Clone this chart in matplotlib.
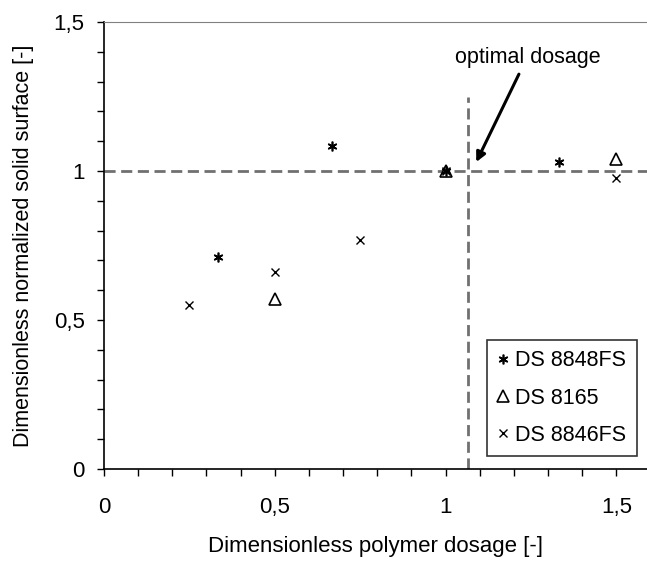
import matplotlib
matplotlib.use("Agg")
import matplotlib.pyplot as plt
from matplotlib.ticker import MultipleLocator, FuncFormatter

# Data
s1_name = "DS 8848FS"
s1_x = [0.333, 0.667, 1.0, 1.333]
s1_y = [0.71, 1.085, 1.0, 1.03]

s2_name = "DS 8165"
s2_x = [0.5, 1.0, 1.5]
s2_y = [0.57, 1.0, 1.04]

s3_name = "DS 8846FS"
s3_x = [0.25, 0.5, 0.75, 1.0, 1.5]
s3_y = [0.55, 0.66, 0.77, 1.0, 0.975]

optimal_x = 1.065
ref_y = 1.0

plt.rcParams['font.family'] = ['Liberation Sans', 'DejaVu Sans']

fig = plt.figure(figsize=(6.47, 5.61), dpi=100)
ax = fig.add_axes([104/647, 92/561, (647-104)/647, (469-22)/561])

ax.set_xlim(0, 1.59)
ax.set_ylim(0, 1.5)

ax.plot(s1_x, s1_y, linestyle='none', marker=(6, 2, 0), markersize=7, color='black',
        markeredgewidth=1.2, label=s1_name, zorder=3)
ax.plot(s2_x, s2_y, linestyle='none', marker='^', markersize=8, markerfacecolor='none',
        markeredgecolor='black', markeredgewidth=1.2, label=s2_name, zorder=3)
ax.plot(s3_x, s3_y, linestyle='none', marker='x', markersize=6, color='black',
        markeredgewidth=1.0, label=s3_name, zorder=3)

ax.axhline(ref_y, color='#707070', linestyle=(0, (4, 2)), linewidth=2, zorder=2)
ax.plot([optimal_x, optimal_x], [0, 1.25], color='#707070', linestyle=(0, (4, 2)),
        linewidth=2, zorder=2)

ax.text(1.24, 1.38, "optimal dosage", ha='center', va='center', fontsize=15.5)
ax.annotate("", xy=(1.09, 1.03), xytext=(1.215, 1.325),
            arrowprops=dict(arrowstyle='-|>', color='black', lw=2.2,
                            mutation_scale=14, shrinkA=0, shrinkB=0))

ax.xaxis.set_major_locator(MultipleLocator(0.5))
ax.xaxis.set_minor_locator(MultipleLocator(0.1))
ax.yaxis.set_major_locator(MultipleLocator(0.5))
ax.yaxis.set_minor_locator(MultipleLocator(0.1))
fmt = FuncFormatter(lambda v, p: ("%g" % round(v, 2)).replace('.', ','))
ax.xaxis.set_major_formatter(fmt)
ax.yaxis.set_major_formatter(fmt)
ax.tick_params(which='both', direction='out', length=5, width=1, labelsize=16,
               colors='black')
ax.tick_params(axis='x', pad=15)
ax.tick_params(axis='y', pad=9)

ax.spines['right'].set_visible(False)
ax.spines['top'].set_color('#808080')
ax.spines['left'].set_linewidth(1.2)
ax.spines['bottom'].set_linewidth(1.2)

ax.set_xlabel("Dimensionless polymer dosage [-]", fontsize=16, labelpad=13)
ax.set_ylabel("Dimensionless normalized solid surface [-]", fontsize=15.5, labelpad=14)

leg = ax.legend(loc='lower right', bbox_to_anchor=(0.982, 0.028), fontsize=15.5,
                frameon=True, fancybox=False, edgecolor='black', handlelength=0.5,
                handletextpad=0.3, borderpad=0.5, labelspacing=0.75,
                borderaxespad=0)
leg.get_frame().set_linewidth(1.2)

fig.savefig("out.png", dpi=100)
